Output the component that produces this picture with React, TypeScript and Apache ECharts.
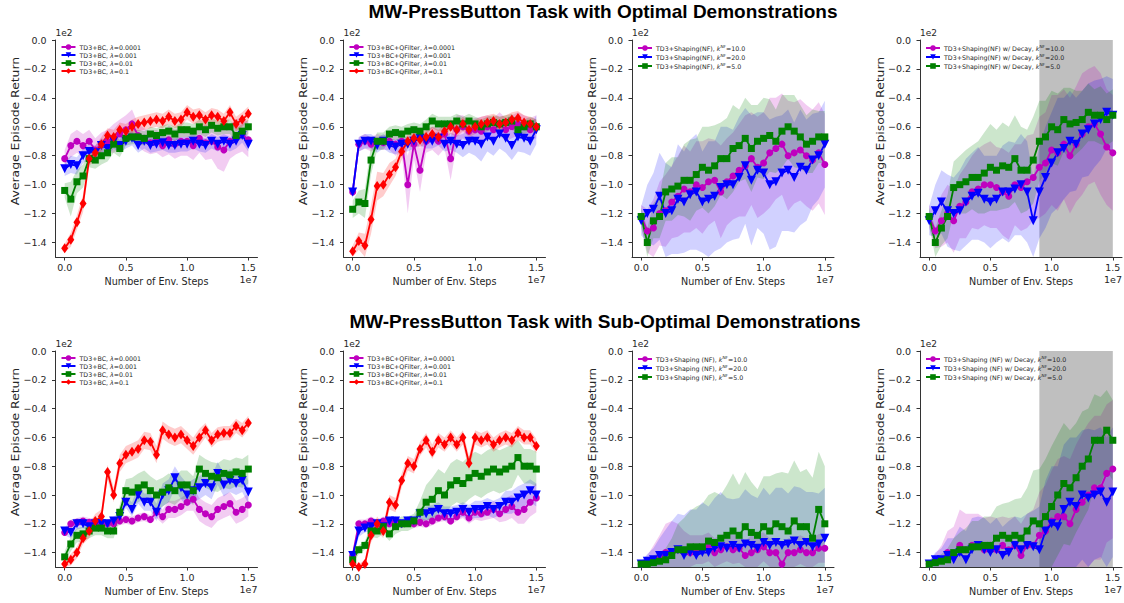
import React, { useEffect, useRef } from "react";
import * as echarts from "echarts";

// x positions in units of 1e6 env. steps (axis shows them in 1e7)
const STEPS = [0, 0.5, 1, 1.5, 2, 2.5, 3, 3.5, 4, 4.5, 5, 5.5, 6, 6.5, 7, 7.5, 8, 8.5, 9, 9.5, 10, 10.5, 11, 11.5, 12, 12.5, 13, 13.5, 14, 14.5, 15];
const X_TICKS = [0, 5, 10, 15];
const Y_TICKS = [0, -20, -40, -60, -80, -100, -120, -140];
const SHADE = [9, 15];

const TITLE_TOP = "MW-PressButton Task with Optimal Demonstrations";
const TITLE_BOTTOM = "MW-PressButton Task with Sub-Optimal Demonstrations";

const N_BC = ["TD3+BC, λ=0.0001", "TD3+BC, λ=0.001", "TD3+BC, λ=0.01", "TD3+BC, λ=0.1"];
const N_QF = ["TD3+BC+QFilter, λ=0.0001", "TD3+BC+QFilter, λ=0.001", "TD3+BC+QFilter, λ=0.01", "TD3+BC+QFilter, λ=0.1"];
const N_SH = ["TD3+Shaping(NF), k^NF=10.0", "TD3+Shaping(NF), k^NF=20.0", "TD3+Shaping(NF), k^NF=5.0"];
const N_SD = ["TD3+Shaping(NF) w/ Decay, k^NF=10.0", "TD3+Shaping(NF) w/ Decay, k^NF=20.0", "TD3+Shaping(NF) w/ Decay, k^NF=5.0"];
const N_SH2 = ["TD3+Shaping (NF), k^NF=10.0", "TD3+Shaping (NF), k^NF=20.0", "TD3+Shaping (NF), k^NF=5.0"];
const N_SD2 = ["TD3+Shaping (NF) w/ Decay, k^NF=10.0", "TD3+Shaping (NF) w/ Decay, k^NF=20.0", "TD3+Shaping (NF) w/ Decay, k^NF=5.0"];

// ---- Panel 1: TD3+BC, optimal ----
const P1_M = [-82,-73,-70,-73,-70,-76,-72,-70,-68,-65,-62,-58,-66,-69,-71,-70,-73,-69,-72,-70,-70,-73,-68,-71,-70,-74,-76,-70,-67,-65,-69];
const P1_B = [-89,-86,-87,-80,-77,-78,-73,-75,-70,-73,-70,-68,-73,-70,-73,-72,-71,-73,-73,-72,-72,-70,-72,-73,-70,-72,-70,-72,-70,-66,-72];
const P1_G = [-104,-110,-98,-94,-82,-83,-80,-78,-72,-75,-68,-67,-67,-68,-65,-66,-64,-63,-65,-62,-62,-63,-60,-62,-59,-61,-60,-60,-66,-63,-60];
const P1_R = [-144,-138,-126,-113,-82,-78,-72,-66,-67,-62,-63,-60,-58,-57,-56,-55,-56,-53,-56,-55,-50,-53,-52,-55,-52,-53,-56,-50,-58,-55,-51];
const P1_M_SD = [6,8,8,8,8,8,8,8,10,10,10,10,8,8,8,8,8,10,10,10,10,10,10,12,12,15,15,12,12,12,12];
const P1_B_SD = [5,6,6,5,5,5,5,5,5,5,5,5,5,5,5,5,5,5,5,5,5,5,5,5,5,5,5,5,5,5,5];
const P1_G_SD = [5,12,8,8,6,6,6,6,6,6,5,5,5,5,5,5,5,5,5,5,5,5,5,5,5,5,5,5,5,5,5];
const P1_R_SD = [3,5,5,6,5,5,5,5,5,5,5,5,5,5,5,5,5,5,5,5,5,5,5,5,5,5,5,5,5,5,5];

// ---- Panel 2: TD3+BC+QFilter, optimal ----
const P2_M = [-105,-72,-70,-72,-70,-71,-70,-72,-70,-100,-72,-90,-70,-68,-70,-65,-82,-62,-60,-63,-62,-63,-60,-62,-58,-62,-60,-58,-60,-62,-60];
const P2_B = [-105,-72,-70,-70,-73,-70,-73,-74,-72,-72,-70,-68,-70,-70,-68,-72,-70,-72,-73,-70,-70,-72,-67,-70,-65,-68,-73,-67,-68,-70,-62];
const P2_G = [-117,-112,-113,-83,-70,-70,-65,-64,-65,-63,-62,-63,-60,-56,-58,-58,-58,-56,-58,-56,-58,-60,-58,-57,-58,-57,-56,-62,-60,-58,-60];
const P2_R = [-146,-139,-142,-124,-101,-100,-93,-88,-77,-70,-68,-69,-67,-65,-67,-63,-60,-62,-58,-62,-60,-58,-57,-56,-58,-57,-55,-54,-57,-58,-60];
const P2_M_SD = [5,5,5,5,5,5,6,8,8,20,10,15,8,8,10,10,15,10,8,8,8,10,8,8,8,8,8,8,8,8,8];
const P2_B_SD = [5,5,5,5,5,5,5,5,5,5,5,5,5,5,5,5,6,6,8,8,10,12,10,10,10,10,10,10,10,10,10];
const P2_G_SD = [6,8,10,10,6,6,5,5,5,5,5,5,5,5,5,5,5,5,5,5,5,5,5,5,5,5,5,5,5,5,5];
const P2_R_SD = [4,6,8,10,10,8,8,6,6,5,5,5,5,5,5,5,5,5,5,5,5,5,5,5,5,5,5,5,5,5,5];

// ---- Panel 3: Shaping(NF), optimal ----
const P3_M = [-122,-132,-130,-120,-118,-112,-108,-103,-105,-100,-102,-98,-97,-105,-98,-94,-90,-87,-82,-88,-85,-78,-75,-72,-80,-78,-76,-80,-83,-78,-86];
const P3_B = [-125,-120,-117,-108,-120,-118,-110,-112,-107,-105,-112,-110,-108,-102,-100,-100,-95,-87,-97,-90,-92,-100,-98,-92,-90,-95,-88,-90,-83,-80,-72];
const P3_G = [-122,-140,-125,-122,-105,-103,-101,-97,-97,-93,-88,-90,-87,-82,-82,-75,-73,-68,-75,-70,-68,-66,-70,-63,-60,-63,-67,-72,-70,-67,-67];
const P3_M_SD = [8,15,20,22,25,25,28,30,28,30,32,30,28,32,30,30,32,35,32,35,35,38,35,35,38,35,35,35,35,35,35];
const P3_B_SD = [10,20,25,30,35,30,38,35,38,40,35,40,38,42,40,38,42,40,45,40,42,45,45,40,42,38,40,35,32,30,30];
const P3_G_SD = [6,10,12,15,20,22,20,25,28,25,28,30,28,25,28,30,25,28,30,25,28,25,22,25,22,25,22,20,22,18,18];

// ---- Panel 4: Shaping(NF) w/ Decay, optimal ----
const P4_M = [-122,-132,-125,-120,-125,-115,-112,-105,-103,-100,-100,-102,-105,-108,-100,-102,-98,-95,-88,-85,-76,-78,-72,-80,-72,-65,-60,-58,-65,-74,-78];
const P4_B = [-125,-118,-112,-118,-120,-118,-112,-108,-106,-110,-112,-110,-105,-105,-103,-100,-105,-125,-105,-95,-85,-78,-75,-70,-72,-65,-62,-58,-55,-50,-52];
const P4_G = [-122,-140,-130,-122,-102,-100,-98,-95,-95,-92,-88,-90,-87,-88,-82,-90,-90,-83,-70,-67,-60,-62,-55,-58,-57,-55,-50,-52,-52,-55,-52];
const P4_M_SD = [8,12,18,20,22,22,25,25,28,28,30,28,30,30,28,30,32,30,35,35,38,40,38,40,40,42,40,40,42,40,40];
const P4_B_SD = [10,18,22,25,25,28,30,30,32,30,32,30,32,35,32,35,35,30,32,35,35,38,35,35,32,30,32,30,28,25,25];
const P4_G_SD = [6,10,12,15,18,20,22,22,25,28,30,28,30,28,30,30,28,30,28,25,25,25,22,25,22,20,20,18,20,18,18];

// ---- Panel 5: TD3+BC, sub-optimal ----
const P5_M = [-126,-120,-119,-118,-119,-119,-120,-120,-120,-118,-117,-118,-116,-115,-117,-112,-115,-110,-110,-108,-105,-103,-110,-113,-115,-110,-108,-106,-112,-110,-107];
const P5_B = [-125,-126,-120,-120,-122,-120,-120,-120,-118,-115,-105,-110,-100,-105,-105,-112,-100,-97,-88,-95,-100,-97,-95,-92,-95,-85,-93,-90,-92,-90,-98];
const P5_G = [-143,-134,-128,-127,-125,-123,-123,-125,-125,-112,-97,-98,-95,-93,-97,-100,-98,-95,-97,-93,-93,-97,-82,-85,-87,-88,-85,-86,-84,-85,-82];
const P5_R = [-148,-145,-140,-130,-125,-118,-115,-84,-100,-78,-72,-70,-68,-62,-63,-72,-55,-58,-60,-58,-62,-66,-60,-55,-62,-58,-57,-57,-52,-55,-50];
const P5_M_SD = [3,3,3,3,3,3,3,3,3,3,3,3,3,3,3,4,5,6,6,6,6,8,8,8,8,8,8,8,8,8,8];
const P5_B_SD = [3,4,4,3,3,3,3,3,3,3,4,5,6,6,6,6,8,8,8,8,8,8,8,8,8,8,8,8,8,8,8];
const P5_G_SD = [4,5,5,5,5,5,5,5,5,5,8,10,10,10,10,10,10,10,10,10,10,10,10,10,10,10,10,10,10,10,10];
const P5_R_SD = [3,4,4,4,5,5,5,5,5,6,6,6,6,6,6,6,6,6,6,6,6,6,6,5,5,5,5,5,5,5,5];

// ---- Panel 6: TD3+BC+QFilter, sub-optimal ----
const P6_M = [-142,-120,-120,-118,-120,-118,-120,-118,-120,-118,-120,-119,-120,-118,-116,-115,-118,-115,-112,-116,-112,-113,-112,-110,-113,-110,-108,-112,-110,-105,-102];
const P6_B = [-142,-125,-123,-122,-120,-122,-118,-118,-120,-118,-118,-113,-113,-112,-110,-113,-113,-112,-110,-112,-110,-110,-108,-110,-108,-105,-105,-102,-100,-97,-100];
const P6_G = [-145,-138,-135,-125,-125,-122,-127,-122,-120,-120,-118,-112,-105,-103,-97,-100,-93,-90,-92,-88,-85,-87,-84,-82,-84,-82,-80,-74,-80,-80,-82];
const P6_R = [-148,-150,-148,-128,-120,-125,-105,-107,-90,-78,-80,-68,-62,-70,-62,-65,-60,-65,-60,-78,-60,-62,-60,-65,-62,-60,-62,-57,-60,-60,-66];
const P6_M_SD = [3,3,3,3,3,3,3,3,3,3,3,3,3,3,3,3,3,3,4,4,5,5,5,6,6,8,8,8,10,10,10];
const P6_B_SD = [3,4,3,3,3,3,3,3,3,3,3,4,5,5,5,5,5,5,5,5,6,6,6,6,6,8,8,8,8,8,8];
const P6_G_SD = [3,3,3,4,5,5,5,5,5,5,5,8,12,15,15,15,15,15,15,15,15,15,15,15,15,15,15,12,12,12,12];
const P6_R_SD = [2,2,3,5,5,5,5,5,5,5,5,5,5,5,5,5,5,5,5,5,5,5,5,5,5,5,5,5,5,5,5];

// ---- Panel 7: Shaping (NF), sub-optimal ----
const P7_M = [-148,-147,-145,-143,-140,-140,-138,-140,-140,-138,-138,-136,-140,-138,-136,-138,-137,-142,-140,-138,-136,-140,-140,-148,-140,-140,-138,-140,-140,-137,-137];
const P7_B = [-148,-146,-145,-142,-142,-140,-138,-142,-140,-142,-140,-140,-137,-136,-137,-135,-137,-134,-135,-137,-133,-135,-133,-135,-134,-132,-135,-133,-136,-134,-130];
const P7_G = [-148,-148,-147,-146,-145,-142,-138,-138,-136,-136,-136,-132,-133,-130,-128,-125,-128,-122,-126,-128,-122,-125,-120,-122,-125,-118,-122,-122,-130,-110,-120];
const P7_M_SD = [2,5,10,15,20,22,18,15,12,10,10,10,10,10,10,10,10,10,12,12,10,10,10,12,10,10,10,10,10,10,10];
const P7_B_SD = [2,5,8,12,18,22,25,28,30,32,35,32,35,38,35,32,35,38,35,35,38,35,38,40,35,38,40,35,38,35,35];
const P7_G_SD = [2,3,5,6,8,12,18,22,25,28,30,32,35,30,35,40,35,38,35,32,35,38,35,38,40,42,38,40,42,40,40];

// ---- Panel 8: Shaping (NF) w/ Decay, sub-optimal ----
const P8_M = [-148,-146,-145,-140,-142,-135,-138,-135,-135,-138,-135,-138,-135,-138,-135,-142,-135,-135,-128,-125,-118,-115,-115,-120,-110,-105,-100,-95,-95,-85,-82];
const P8_B = [-148,-145,-145,-142,-145,-140,-145,-138,-135,-138,-140,-138,-142,-140,-135,-138,-135,-136,-138,-125,-120,-122,-110,-105,-108,-100,-102,-100,-98,-105,-98];
const P8_G = [-148,-147,-146,-145,-140,-138,-138,-136,-136,-135,-135,-130,-128,-130,-128,-130,-125,-118,-120,-115,-108,-100,-92,-95,-88,-80,-75,-62,-62,-55,-62];
const P8_M_SD = [2,5,10,15,20,25,25,22,22,22,20,22,20,22,20,22,22,25,30,32,35,40,42,45,45,48,50,50,50,48,48];
const P8_B_SD = [2,5,8,12,15,18,20,22,20,22,20,22,20,22,20,22,22,25,30,35,40,42,45,45,48,45,48,45,45,45,45];
const P8_G_SD = [2,3,5,8,10,12,15,18,18,20,20,22,22,25,25,28,30,35,38,40,42,42,42,40,38,38,35,32,30,28,28];

// ---- styling ----
const Y_MIN = -150;
const Y_MAX = 0;
const COL_LEFT = [55.5, 343.5, 632, 920];
const ROW_TOP = [40, 351];
const ROW_H = [217, 216];
const GRID_W = 202;
const FONT = "DejaVu Sans";
const TXT = "#262626";
const AXIS = "#333333";

const STYLE = [
  { color: "#bf00bf", band: "rgba(191,0,191,0.2)", symbol: "circle", size: 7, rotate: 0 },
  { color: "#0000ff", band: "rgba(0,0,255,0.18)", symbol: "triangle", size: 9, rotate: 180 },
  { color: "#008000", band: "rgba(0,128,0,0.2)", symbol: "rect", size: 7, rotate: 0 },
  { color: "#ff0000", band: "rgba(255,0,0,0.2)", symbol: "diamond", size: [7, 10], rotate: 0 },
];

const PANELS = [
  { names: N_BC, means: [P1_M, P1_B, P1_G, P1_R], sds: [P1_M_SD, P1_B_SD, P1_G_SD, P1_R_SD], shade: false },
  { names: N_QF, means: [P2_M, P2_B, P2_G, P2_R], sds: [P2_M_SD, P2_B_SD, P2_G_SD, P2_R_SD], shade: false },
  { names: N_SH, means: [P3_M, P3_B, P3_G], sds: [P3_M_SD, P3_B_SD, P3_G_SD], shade: false },
  { names: N_SD, means: [P4_M, P4_B, P4_G], sds: [P4_M_SD, P4_B_SD, P4_G_SD], shade: true },
  { names: N_BC, means: [P5_M, P5_B, P5_G, P5_R], sds: [P5_M_SD, P5_B_SD, P5_G_SD, P5_R_SD], shade: false },
  { names: N_QF, means: [P6_M, P6_B, P6_G, P6_R], sds: [P6_M_SD, P6_B_SD, P6_G_SD, P6_R_SD], shade: false },
  { names: N_SH2, means: [P7_M, P7_B, P7_G], sds: [P7_M_SD, P7_B_SD, P7_G_SD], shade: false },
  { names: N_SD2, means: [P8_M, P8_B, P8_G], sds: [P8_M_SD, P8_B_SD, P8_G_SD], shade: true },
];

const fmtY = (v: number) => (v === 0 ? "0.0" : (v < 0 ? "\u2212" : "") + (Math.abs(v) / 100).toFixed(1));
const fmtX = (v: number) => (v / 10).toFixed(1);

function buildOption() {
  const grid: any[] = [];
  const xAxis: any[] = [];
  const yAxis: any[] = [];
  const legend: any[] = [];
  const series: any[] = [];
  const graphic: any[] = [];

  PANELS.forEach((p, i) => {
    const row = Math.floor(i / 4);
    const col = i % 4;
    const left = COL_LEFT[col];
    const top = ROW_TOP[row];
    const h = ROW_H[row];
    grid.push({ left, top, width: GRID_W, height: h, containLabel: false });
    xAxis.push({
      gridIndex: i, type: "value", min: -0.75, max: 15.75,
      axisLine: { show: true, onZero: false, lineStyle: { color: AXIS, width: 1 } },
      axisTick: { show: true, length: 3.5, customValues: X_TICKS, lineStyle: { color: AXIS } },
      axisLabel: { customValues: X_TICKS, formatter: fmtX, margin: 5, fontSize: 9.5, fontFamily: FONT, color: TXT },
      splitLine: { show: false },
      name: "Number of Env. Steps", nameLocation: "middle", nameGap: 19,
      nameTextStyle: { fontSize: 9.6, fontFamily: FONT, color: TXT },
    });
    yAxis.push({
      gridIndex: i, type: "value", min: Y_MIN, max: Y_MAX,
      axisLine: { show: true, onZero: false, lineStyle: { color: AXIS, width: 1 } },
      axisTick: { show: true, length: 3.5, customValues: Y_TICKS, lineStyle: { color: AXIS } },
      axisLabel: { customValues: Y_TICKS, formatter: fmtY, margin: 9, fontSize: 9.5, fontFamily: FONT, color: TXT },
      splitLine: { show: false },
      name: "1e2", nameLocation: "end", nameGap: 3,
      nameTextStyle: { fontSize: 9, fontFamily: FONT, color: TXT, align: "left" },
    });
    legend.push({
      left: left + 5, top: top + 4, orient: "vertical", padding: 0,
      itemWidth: 14, itemHeight: 7, itemGap: 2, selectedMode: false,
      data: p.names,
      formatter: (name: string) => name.replace("λ", "{it|λ}").replace("k^NF", "{it|k}{sup|NF}"),
      textStyle: {
        fontSize: 6.3, fontFamily: FONT, color: TXT, padding: [0, 0, 0, -1],
        rich: {
          it: { fontSize: 6.3, fontStyle: "italic", fontFamily: FONT, color: TXT },
          sup: { fontSize: 4.2, fontFamily: FONT, color: TXT, verticalAlign: "top", padding: [0, 0, 4, 0] },
        },
      },
    });

    if (p.shade) {
      series.push({
        type: "custom", xAxisIndex: i, yAxisIndex: i, z: 0, silent: true,
        encode: { x: [0, 1] },
        data: [SHADE],
        renderItem: (params: any, api: any) => {
          const a = api.coord([api.value(0), Y_MAX]);
          const b = api.coord([api.value(1), Y_MIN]);
          return { type: "rect", shape: { x: a[0], y: a[1], width: b[0] - a[0], height: b[1] - a[1] }, style: { fill: "rgba(128,128,128,0.5)" } };
        },
      });
    }

    p.means.forEach((mean, k) => {
      const sd = p.sds[k];
      const band = STEPS.map((x, j) => [x, mean[j] - sd[j], mean[j] + sd[j]]);
      series.push({
        type: "custom", xAxisIndex: i, yAxisIndex: i, z: 1, silent: true, clip: true,
        encode: { x: 0, y: [1, 2] },
        data: band,
        renderItem: (params: any, api: any) => {
          if (params.dataIndex !== 0) return null;
          const up = band.map((d) => api.coord([d[0], Math.min(d[2], Y_MAX)]));
          const lo = band.map((d) => api.coord([d[0], Math.max(d[1], Y_MIN)])).reverse();
          return { type: "polygon", shape: { points: up.concat(lo) }, style: { fill: STYLE[k].band } };
        },
      });
    });
    p.means.forEach((mean, k) => {
      const st = STYLE[k];
      series.push({
        type: "line", name: p.names[k], xAxisIndex: i, yAxisIndex: i, z: 3,
        data: STEPS.map((x, j) => [x, mean[j]]),
        showSymbol: true, symbol: st.symbol, symbolSize: st.size, symbolRotate: st.rotate,
        lineStyle: { color: st.color, width: 1.8 },
        itemStyle: { color: st.color, borderWidth: 0 },
        clip: true,
      });
    });

    graphic.push({
      type: "text", x: left - 40, y: top + 91, rotation: Math.PI / 2,
      style: { text: "Average Episode Return", fontSize: 10.5, fontFamily: FONT, fill: TXT, align: "center", verticalAlign: "middle" },
      scaleX: 1.18,
    });
    graphic.push({
      type: "text", x: left + GRID_W, y: top + h + 22,
      style: { text: "1e7", fontSize: 9.5, fontFamily: FONT, fill: TXT, align: "right", verticalAlign: "middle" },
    });
  });

  return {
    animation: false,
    backgroundColor: "#ffffff",
    title: [
      { text: TITLE_TOP, left: 603, top: 2, textAlign: "center", padding: 0, textStyle: { fontSize: 19, fontWeight: "bold", fontFamily: "Liberation Sans", color: "#000" } },
      { text: TITLE_BOTTOM, left: 605, top: 312, textAlign: "center", padding: 0, textStyle: { fontSize: 19, fontWeight: "bold", fontFamily: "Liberation Sans", color: "#000" } },
    ],
    grid, xAxis, yAxis, legend, series, graphic,
  };
}

export default function App() {
  const ref = useRef<HTMLDivElement>(null);
  useEffect(() => {
    if (!ref.current) return;
    const chart = echarts.init(ref.current, undefined, { renderer: "svg" });
    chart.setOption(buildOption() as any);
    return () => chart.dispose();
  }, []);
  return <div ref={ref} style={{ position: "absolute", left: 0, top: 0, width: 1124, height: 603 }} />;
}
